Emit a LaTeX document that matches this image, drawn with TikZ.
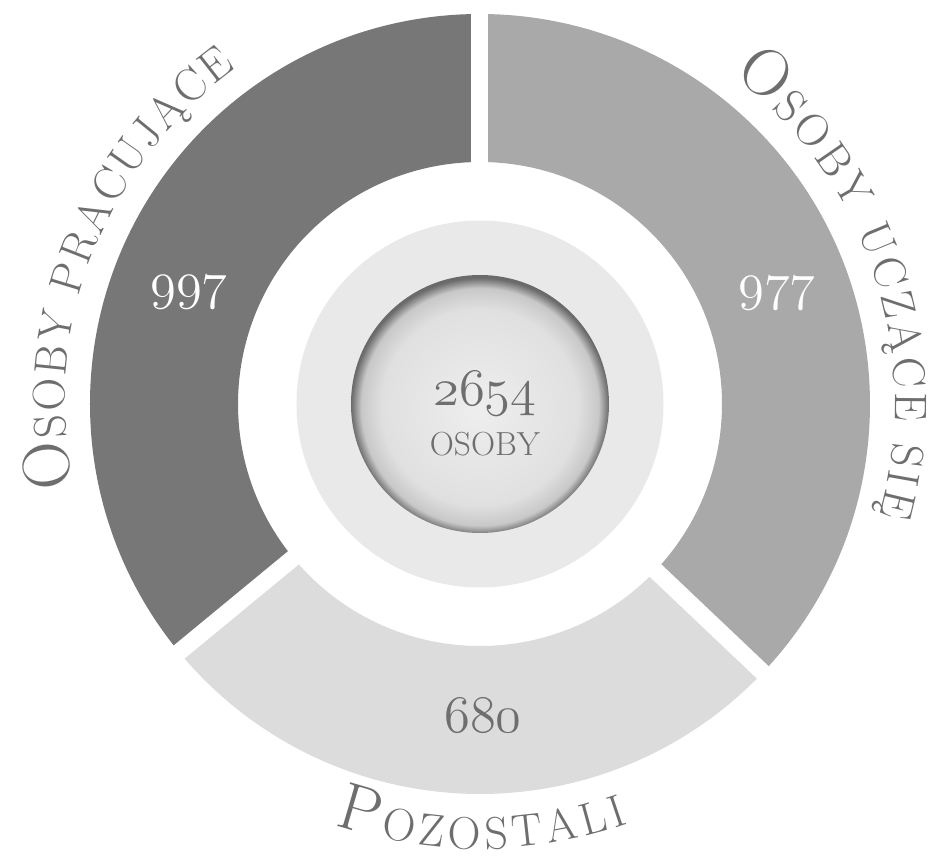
\RequirePackage{fix-cm}
\documentclass[tikz,border=0pt]{standalone}
\usepackage{fontspec}
\usepackage{tikz}
\usetikzlibrary{decorations.text}

\definecolor{pracgray}{HTML}{777777}
\definecolor{uczgray}{HTML}{A9A9A9}
\definecolor{pozgray}{HTML}{DCDCDC}
\definecolor{ringgray}{HTML}{E9E9E9}
\definecolor{textgray}{HTML}{6E6E6E}
\definecolor{discA}{HTML}{EEEEEE}
\definecolor{discB}{HTML}{E0E0E0}
\definecolor{discC}{HTML}{C8C8C8}
\definecolor{discD}{HTML}{8A8A8A}
\definecolor{discE}{HTML}{6A6A6A}
\pgfdeclareradialshading{discshade}{\pgfpoint{0bp}{-1bp}}{color(0bp)=(discA); color(19bp)=(discB); color(23bp)=(discC); color(24.3bp)=(discD); color(25bp)=(discE); color(50bp)=(discE)}

\newcommand{\numfont}{\fontsize{30}{30}\usefont{OML}{cmm}{m}{it}}
\newcommand{\labelbig}{\color{textgray}\fontsize{38}{38}\selectfont}
\newcommand{\labelsmall}{\color{textgray}\fontsize{26}{26}\selectfont}

\begin{document}
\begin{tikzpicture}[x=0.02cm,y=0.02cm,
  liczba/.style={font=\numfont},
  przerwa/.style={white,line width=0.34cm},
  napis/.style={decorate,decoration={text along path,text align=fit to path,text={#1}}}]

\useasboundingbox (-480,-452) rectangle (451,404);

\fill[pracgray] (90:390) arc[start angle=90,end angle=219.5,radius=390] -- (219.5:242) arc[start angle=219.5,end angle=90,radius=242] -- cycle;
\fill[pozgray] (219.5:390) arc[start angle=219.5,end angle=316.5,radius=390] -- (316.5:242) arc[start angle=316.5,end angle=219.5,radius=242] -- cycle;
\fill[uczgray] (316.5:390) arc[start angle=316.5,end angle=450,radius=390] -- (450:242) arc[start angle=450,end angle=316.5,radius=242] -- cycle;
\foreach \a in {90,219.5,316.5}
  \draw[przerwa] (\a:230) -- (\a:400);

\fill[ringgray] (0,0) circle[radius=183.5];
\shade[shading=discshade] (0,0) circle[radius=129];

\node[liczba,text=white] (1) at (-291,112){997};
\node[liczba,text=white] (2) at (297,111){977};
\node[liczba,text=textgray] (3) at (3,-312){680};
\node[liczba,text=textgray] (4) at (5,10){2654};
\node[text=textgray,font=\fontsize{19}{19}\selectfont] (5) at (5,-40){OSOBY};

\path[napis={|\labelbig|O|\labelsmall|SOBY PRACUJĄCE}] (191.5:415) arc[start angle=191.5,end angle=126,radius=415];
\path[napis={|\labelbig|O|\labelsmall|SOBY UCZĄCE SIĘ}] (52.5:415) arc[start angle=52.5,end angle=-15.5,radius=415];
\path[napis={|\labelbig|P|\labelsmall|OZOSTALI}] (251:445) arc[start angle=251,end angle=289.5,radius=445];

\end{tikzpicture}
\end{document}
